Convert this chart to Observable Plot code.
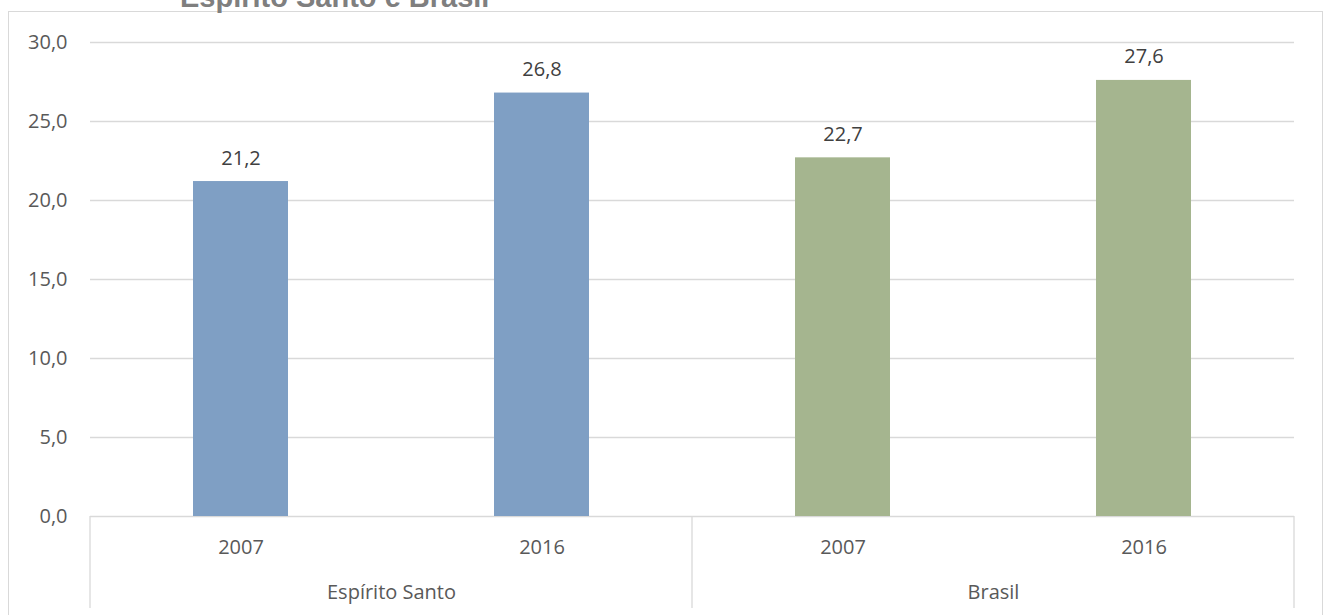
<!DOCTYPE html>
<html><head><meta charset="utf-8">
<script src="https://cdn.jsdelivr.net/npm/d3@7"></script>
<script src="https://cdn.jsdelivr.net/npm/@observablehq/plot@0.6"></script>
<style>
html,body{margin:0;padding:0;background:#fff;width:1323px;height:615px;overflow:hidden;}
#wrap{position:relative;width:1323px;height:615px;overflow:hidden;}
#border{position:absolute;left:8px;top:11px;width:1315px;height:660px;border:1px solid #d9d9d9;box-sizing:border-box;}
#title{position:absolute;left:180px;top:-17.5px;font:bold 29px "Liberation Sans",Arial,sans-serif;color:#7f7f7f;line-height:29px;white-space:nowrap;}
#chart{position:absolute;left:0;top:0;}
</style></head><body>
<div id="wrap"><div id="border"></div><div id="title">Espírito Santo e Brasil</div><div id="chart"></div></div>
<script>
const regions = ["Espírito Santo", "Brasil"];
const years = ["2007", "2016"];
const valuesES = [21.2, 26.8];
const valuesBR = [22.7, 27.6];
const yTicks = [0, 5, 10, 15, 20, 25, 30];
const colors = ["#7f9fc4", "#a5b58f"];

const seriesValues = [valuesES, valuesBR];
const rows = [];
regions.forEach((r, i) => years.forEach((yr, j) => rows.push({region: r, year: yr, value: seriesValues[i][j]})));

const fmt = d => d.toFixed(1).replace(".", ",");

const plot = Plot.plot({
  width: 1323,
  height: 615,
  marginLeft: 90,
  marginRight: 29,
  marginTop: 42,
  marginBottom: 99,
  style: {fontFamily: "'Open Sans', sans-serif", fontSize: "20px", color: "#595959", background: "transparent", overflow: "visible"},
  fx: {domain: regions, padding: 0, label: null, axis: null},
  x: {domain: years, paddingInner: 0.684, paddingOuter: 0.342, label: null, axis: null},
  y: {domain: [0, 30], label: null, axis: null},
  color: {domain: regions, range: colors},
  marks: [
    Plot.gridY(yTicks, {stroke: "#d9d9d9", strokeOpacity: 1, strokeWidth: 1.3}),
    Plot.axisY(yTicks, {tickSize: 0, tickPadding: 23, tickFormat: fmt, label: null, fill: "#595959"}),
    Plot.barY(rows, {fx: "region", x: "year", y: "value", fill: "region"}),
    Plot.text(rows, {fx: "region", x: "year", y: "value", text: d => fmt(d.value), lineAnchor: "bottom", dy: -17, fill: "#404040"}),
    Plot.axisX({tickSize: 0, tickPadding: 23, label: null, fill: "#595959"}),
    Plot.axisFx({anchor: "bottom", tickSize: 0, tickPadding: 68, label: null, fill: "#595959"})
  ]
});

document.getElementById("chart").appendChild(plot);

// category separators below the axis, placed from the facet scale
const fxS = plot.scale("fx");
const yS = plot.scale("y");
const y0 = yS.apply(0);
const edges = regions.map(r => fxS.apply(r)).concat([fxS.apply(regions[regions.length - 1]) + fxS.bandwidth]);
const svg = d3.select(plot);
svg.append("g").selectAll("line").data(edges).join("line")
  .attr("x1", d => d).attr("x2", d => d)
  .attr("y1", y0).attr("y2", y0 + 92)
  .attr("stroke", "#d9d9d9").attr("stroke-width", 1.3);
</script>
</body></html>
